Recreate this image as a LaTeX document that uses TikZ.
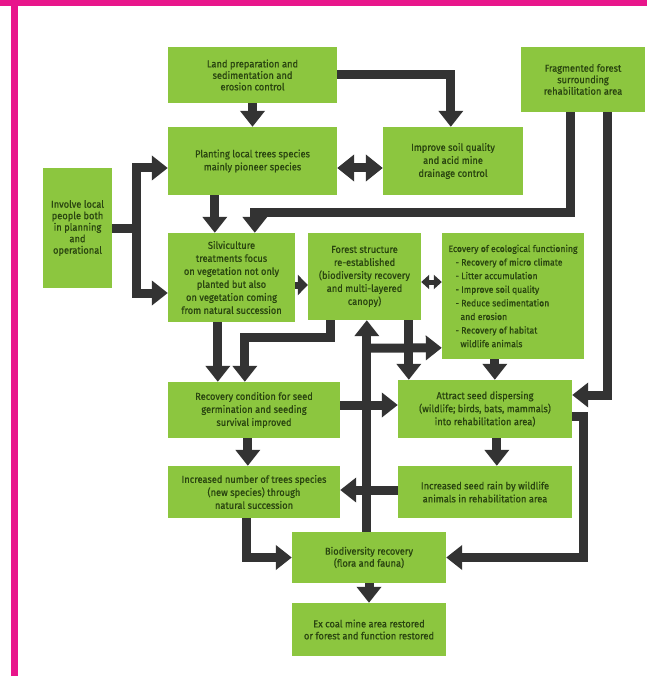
\documentclass[tikz,border=0pt]{standalone}
\usepackage{fontspec}
\setmainfont{Fira Sans}[FakeStretch=0.93,FakeBold=0.8]
\usetikzlibrary{arrows.meta,calc}
\definecolor{boxgreen}{HTML}{8CC63F}
\definecolor{txtgreen}{HTML}{2A4510}
\definecolor{connc}{HTML}{333333}
\definecolor{framec}{HTML}{E8168B}
\tikzset{
  box/.style={fill=boxgreen, text=txtgreen, font=\fontsize{10}{13}\selectfont, align=center, inner sep=2pt},
  tight/.style={font=\fontsize{10}{11.5}\selectfont},
  conn/.style={draw=connc, line width=9pt, line join=miter},
  arr/.style={conn, -{Triangle[width=24pt,length=16pt]}},
  darr/.style={conn, {Triangle[width=26pt,length=17pt]}-{Triangle[width=26pt,length=17pt]}},
  sarr/.style={draw=connc, line width=7pt, -{Triangle[width=20pt,length=10pt]}},
  ssarr/.style={draw=connc, line width=5pt, {Triangle[width=14pt,length=8pt]}-{Triangle[width=14pt,length=8pt]}}
}
\begin{document}
\begin{tikzpicture}[x=1pt,y=-1pt]
\useasboundingbox (0,0) rectangle (647,676);
\fill[white] (0,0) rectangle (647,676);
\fill[framec] (0,0) rectangle (647,6);
\fill[framec] (11,0) rectangle (18,676);

\node[box, tight, minimum width=169pt, minimum height=56pt] (land) at (252.5,75) {Land preparation and\\sedimentation and\\erosion control};
\node[box, tight, minimum width=124pt, minimum height=65pt] (frag) at (583,79.5) {Fragmented forest\\surrounding\\rehabilitation area};
\node[box, minimum width=169pt, minimum height=68pt] (plant) at (252.5,161) {Planting local trees species\\mainly pioneer species};
\node[box, minimum width=140pt, minimum height=68pt] (soil) at (453,161) {Improve soil quality\\and acid mine\\drainage control};
\node[box, tight, minimum width=69pt, minimum height=120pt] (involve) at (77.5,228) {Involve local\\people both\\in planning\\and\\operational};
\node[box, minimum width=127pt, minimum height=89pt] (silv) at (231.5,277.5) {Silviculture\\treatments focus\\on vegetation not only\\planted but also\\on vegetation coming\\from natural succession};
\node[box, minimum width=113pt, minimum height=87pt] (forest) at (364.5,276.5) {Forest structure\\re-established\\(biodiversity recovery\\and multi-layered\\canopy)};
\node[box, align=left, font=\fontsize{9.3}{13.6}\selectfont, minimum width=142pt, minimum height=126pt] (ecov) at (513,296) {Ecovery of ecological functioning\\
\hspace*{7pt}- Recovery of micro climate\\
\hspace*{7pt}- Litter accumulation\\
\hspace*{7pt}- Improve soil quality\\
\hspace*{7pt}- Reduce sedimentation\\
\hspace*{12pt}and erosion\\
\hspace*{7pt}- Recovery of habitat\\
\hspace*{12pt}wildlife animals};
\node[box, minimum width=172pt, minimum height=56pt] (recov) at (254,410) {Recovery condition for seed\\germination and seeding\\survival improved};
\node[box, minimum width=174pt, minimum height=58pt] (attract) at (485,409) {Attract seed dispersing\\(wildlife; birds, bats, mammals)\\into rehabilitation area)};
\node[box, minimum width=172pt, minimum height=52pt] (incnum) at (254,492) {Increased number of trees species\\(new species) through\\natural succession};
\node[box, minimum width=174pt, minimum height=52pt] (seed) at (485,492) {Increased seed rain by wildlife\\animals in rehabilitation area};
\node[box, font=\fontsize{10}{12}\selectfont, minimum width=154pt, minimum height=51pt] (bio) at (369,557.5) {Biodiversity recovery\\(flora and fauna)};
\node[box, font=\fontsize{10}{12}\selectfont, minimum width=154pt, minimum height=53pt] (excoal) at (369,629.5) {Ex coal mine area restored\\or forest and function restored};

% junction for involve
\coordinate (j1) at (136,228);

% connectors
\draw[arr] (land.south) -- (plant.north);
\draw[arr] (land.east) -| ($(soil.north west)+(68,0)$);
\draw[darr] ($(plant.east)+(0,7)$) -- ($(soil.west)+(0,7)$);
\draw[arr] (involve.east) -- (j1) |- ($(plant.west)+(0,7)$);
\draw[arr] (involve.east) -- (j1) |- ($(silv.west)+(0,15.5)$);
\draw[arr] ($(plant.south west)+(47,0)$) -- ($(silv.north west)+(47,0)$);
\draw[arr] ($(frag.south west)+(50,0)$) |- ($(silv.north west)+(87,-20)$) -- ($(silv.north west)+(87,0)$);
\draw[arr] ($(frag.south west)+(87,0)$) |- ($(attract.east)+(0,-14)$);
\draw[sarr] ($(silv.east)+(0,7.5)$) -- ($(forest.west)+(0,8.5)$);
\draw[ssarr] ($(forest.east)+(0,5.5)$) -- ($(ecov.west)+(0,-14)$);
\draw[arr] ($(silv.south west)+(50,0)$) -- ($(recov.north west)+(50,0)$);
\draw[arr] ($(forest.south west)+(23,0)$) |- ($(recov.north west)+(77,-44)$) -- ($(recov.north west)+(77,0)$);
\draw[arr] ($(forest.south west)+(101,0)$) -- ($(attract.north west)+(11,0)$);
\draw[arr] ($(bio.north west)+(75,0)$) -- ($(forest.south west)+(59,0)$);
\draw[arr] ($(forest.south west)+(59,28)$) -- ($(ecov.north west)+(0,115)$);
\draw[arr] ($(ecov.south west)+(53,0)$) -- ($(attract.north west)+(97,0)$);
\draw[arr] ($(recov.east)+(0,-5)$) -- ($(attract.west)+(0,-4)$);
\draw[arr] ($(recov.south west)+(80,0)$) -- ($(incnum.north west)+(80,0)$);
\draw[arr] ($(attract.south west)+(99,0)$) -- ($(seed.north west)+(99,0)$);
\draw[arr] ($(seed.west)+(0,-2)$) -- ($(incnum.east)+(0,-2)$);
\draw[arr] ($(incnum.south west)+(79,0)$) |- (bio.west);
\draw[arr] ($(attract.east)+(0,7)$) -| ($(bio.east)+(137,0)$) -- (bio.east);
\draw[arr] (bio.south) -- (excoal.north);
\end{tikzpicture}
\end{document}
